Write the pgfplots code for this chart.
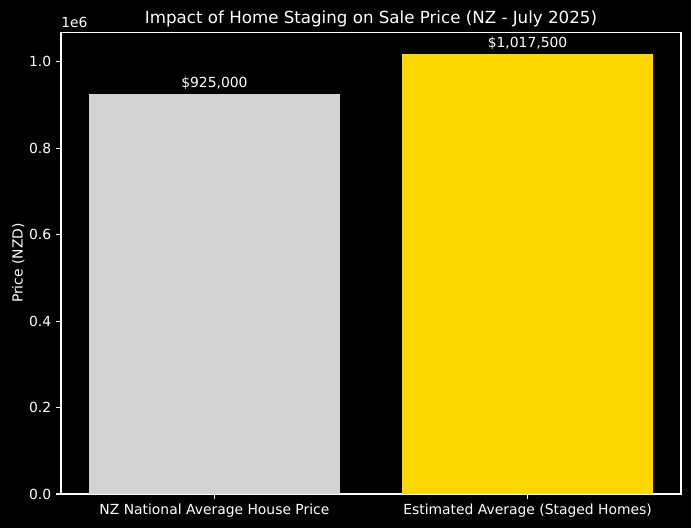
\documentclass[border=0pt]{standalone}
\usepackage{pgfplots}
\pgfplotsset{compat=1.18}
\usepackage{fontspec}
\setmainfont{DejaVu Sans}
\definecolor{barA}{HTML}{D3D3D3}
\definecolor{barB}{HTML}{FFD700}
\begin{document}
\begin{tikzpicture}
\fill[black] (0,0) rectangle (497.5pt,380.2pt);
\useasboundingbox (0,0) rectangle (497.5pt,380.2pt);
\begin{axis}[
  at={(43.9pt,24.5pt)}, anchor=south west,
  scale only axis, width=446.4pt, height=332.6pt,
  xmin=-0.49, xmax=1.49, ymin=0, ymax=1068375,
  clip=false,
  axis line style={white, line width=0.8pt},
  tick style={white, line width=0.8pt},
  major tick length=3.5pt, tick align=outside, tick pos=left,
  xtick={0,1},
  xticklabels={NZ National Average House Price, Estimated Average (Staged Homes)},
  ytick={0,200000,400000,600000,800000,1000000},
  yticklabels={0.0,0.2,0.4,0.6,0.8,1.0},
  scaled y ticks=false,
  /pgf/number format/assume math mode=true,
  ticklabel style={white, font=\fontsize{10}{12}\selectfont},
  ylabel={Price (NZD)},
  ylabel style={white, font=\fontsize{10}{12}\selectfont, yshift=-3.5pt},
  title={Impact of Home Staging on Sale Price (NZ - July 2025)},
  title style={white, font=\fontsize{12}{14}\selectfont, yshift=-6pt},
  ybar, bar width=0.8,
  nodes near coords, point meta=explicit symbolic,
  every node near coord/.append style={white, font=\fontsize{10}{12}\selectfont, anchor=south, inner sep=0pt, yshift=2.8pt},
]
\addplot[fill=barA, draw=none, bar shift=0pt] coordinates {(0,925000) [\$925,000]};
\addplot[fill=barB, draw=none, bar shift=0pt] coordinates {(1,1017500) [\$1,017,500]};
\node[anchor=south west, white, inner sep=0pt, font=\fontsize{10}{12}\selectfont, yshift=3pt] at (rel axis cs:0,1) {1e6};
\end{axis}
\end{tikzpicture}
\end{document}
